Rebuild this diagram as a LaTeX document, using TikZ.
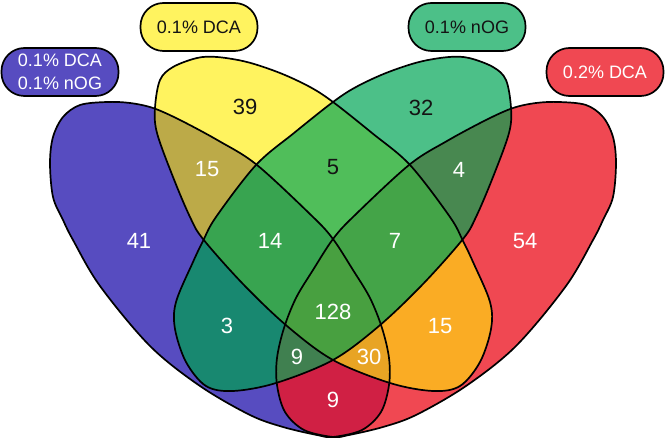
\documentclass[tikz,border=0pt]{standalone}
\usepackage{fontspec}
\setmainfont{Liberation Sans}
\definecolor{cB}{RGB}{87,76,192}
\definecolor{cY}{RGB}{255,243,95}
\definecolor{cG}{RGB}{76,192,136}
\definecolor{cR}{RGB}{240,72,82}
\definecolor{cBY}{RGB}{188,170,72}
\definecolor{cBG}{RGB}{24,136,112}
\definecolor{cBR}{RGB}{208,32,68}
\definecolor{cYG}{RGB}{80,190,90}
\definecolor{cYR}{RGB}{250,172,36}
\definecolor{cGR}{RGB}{72,136,80}
\definecolor{cBYG}{RGB}{56,164,80}
\definecolor{cBYR}{RGB}{232,164,36}
\definecolor{cBGR}{RGB}{64,128,80}
\definecolor{cYGR}{RGB}{68,164,72}
\definecolor{cAll}{RGB}{72,160,64}
\definecolor{dtext}{RGB}{20,20,20}
\def\EB{plot[smooth cycle, tension=0.55] coordinates {
 (80,105) (107,102) (130,103) (153,108) (180,120) (219,141) (257,165) (313,217)
 (333,239) (353,270) (370,298) (382,328) (389,358) (389,385) (381,412) (362,430)
 (333,437) (317,435) (283,427) (250,415) (200,386) (150,346) (100,286) (73,240)
 (63,220) (53,197) (50,163) (53,137) (63,117)}}
\def\ER{plot[smooth cycle, tension=0.55] coordinates {
 (586,105) (559,102) (536,103) (513,108) (486,120) (447,141) (409,165) (353,217)
 (333,239) (313,270) (296,298) (284,328) (277,358) (277,385) (285,412) (304,430)
 (333,437) (349,435) (383,427) (416,415) (466,386) (516,346) (566,286) (593,240)
 (603,220) (613,197) (616,163) (613,137) (603,117)}}
\def\EY{plot[smooth cycle, tension=0.55] coordinates {
 (197,58) (217,57) (247,62) (280,73) (310,87) (333,102) (372,133) (410,165)
 (450,217) (463,241) (473,262) (490,302) (491,329) (480,362) (460,386) (433,391)
 (390,383) (333,360) (287,326) (243,284) (203,239) (190,217) (173,177) (157,133)
 (155,108) (160,80) (173,67)}}
\def\EG{plot[smooth cycle, tension=0.55] coordinates {
 (469,58) (449,57) (419,62) (386,73) (356,87) (333,102) (294,133) (256,165)
 (216,217) (203,241) (193,262) (176,302) (175,329) (186,362) (206,386) (233,391)
 (276,383) (333,360) (379,326) (423,284) (463,239) (476,217) (493,177) (509,133)
 (511,108) (506,80) (493,67)}}
\newcommand\fillall[1]{\fill[#1] (-10,-10) rectangle (676,448);}
\begin{document}
\begin{tikzpicture}[x=1pt,y=-1pt,
  outl/.style={draw=black,line width=1.7pt},
  lab/.style={rounded corners=23pt, draw=black, line width=1.7pt,
    minimum width=117pt, minimum height=48pt, inner sep=0pt,
    font=\fontsize{18}{23}\selectfont, align=center},
  num/.style={font=\fontsize{22}{26}\selectfont, text=white},
  dnum/.style={num, text=dtext}]
\useasboundingbox (0,0) rectangle (666,438);
% single sets
\fill[cB] \EB;
\fill[cY] \EY;
\fill[cG] \EG;
\fill[cR] \ER;
% pairs
\begin{scope}\clip \EB; \clip \EY; \fillall{cBY}\end{scope}
\begin{scope}\clip \EB; \clip \EG; \fillall{cBG}\end{scope}
\begin{scope}\clip \EB; \clip \ER; \fillall{cBR}\end{scope}
\begin{scope}\clip \EY; \clip \EG; \fillall{cYG}\end{scope}
\begin{scope}\clip \EY; \clip \ER; \fillall{cYR}\end{scope}
\begin{scope}\clip \EG; \clip \ER; \fillall{cGR}\end{scope}
% triples
\begin{scope}\clip \EB; \clip \EY; \clip \EG; \fillall{cBYG}\end{scope}
\begin{scope}\clip \EB; \clip \EY; \clip \ER; \fillall{cBYR}\end{scope}
\begin{scope}\clip \EB; \clip \EG; \clip \ER; \fillall{cBGR}\end{scope}
\begin{scope}\clip \EY; \clip \EG; \clip \ER; \fillall{cYGR}\end{scope}
% all four
\begin{scope}\clip \EB; \clip \EY; \clip \EG; \clip \ER; \fillall{cAll}\end{scope}
% outlines
\draw[outl] \EB;
\draw[outl] \EY;
\draw[outl] \EG;
\draw[outl] \ER;
% set labels
\node[lab, fill=cB, text=white] (labB) at (60,72) {0.1\% DCA\\0.1\% nOG};
\node[lab, fill=cY, text=dtext] (labY) at (199,27) {0.1\% DCA};
\node[lab, fill=cG, text=dtext] (labG) at (467,27) {0.1\% nOG};
\node[lab, fill=cR, text=white] (labR) at (605,72) {0.2\% DCA};
% counts
\node[num]  (nB)    at (139,241) {41};
\node[dnum] (nY)    at (245,107) {39};
\node[dnum] (nG)    at (421,108) {32};
\node[num]  (nR)    at (525,241) {54};
\node[num]  (nBY)   at (207,169) {15};
\node[dnum] (nYG)   at (333,167) {5};
\node[num]  (nGR)   at (459,170) {4};
\node[num]  (nBYG)  at (270,241) {14};
\node[num]  (nYGR)  at (395,241) {7};
\node[num]  (nBG)   at (227,326) {3};
\node[num]  (nAll)  at (333,312) {128};
\node[num]  (nYR)   at (440,326) {15};
\node[num]  (nBGR)  at (297,357) {9};
\node[num]  (nBYR)  at (369,357) {30};
\node[num]  (nBR)   at (333,400) {9};
\end{tikzpicture}
\end{document}
